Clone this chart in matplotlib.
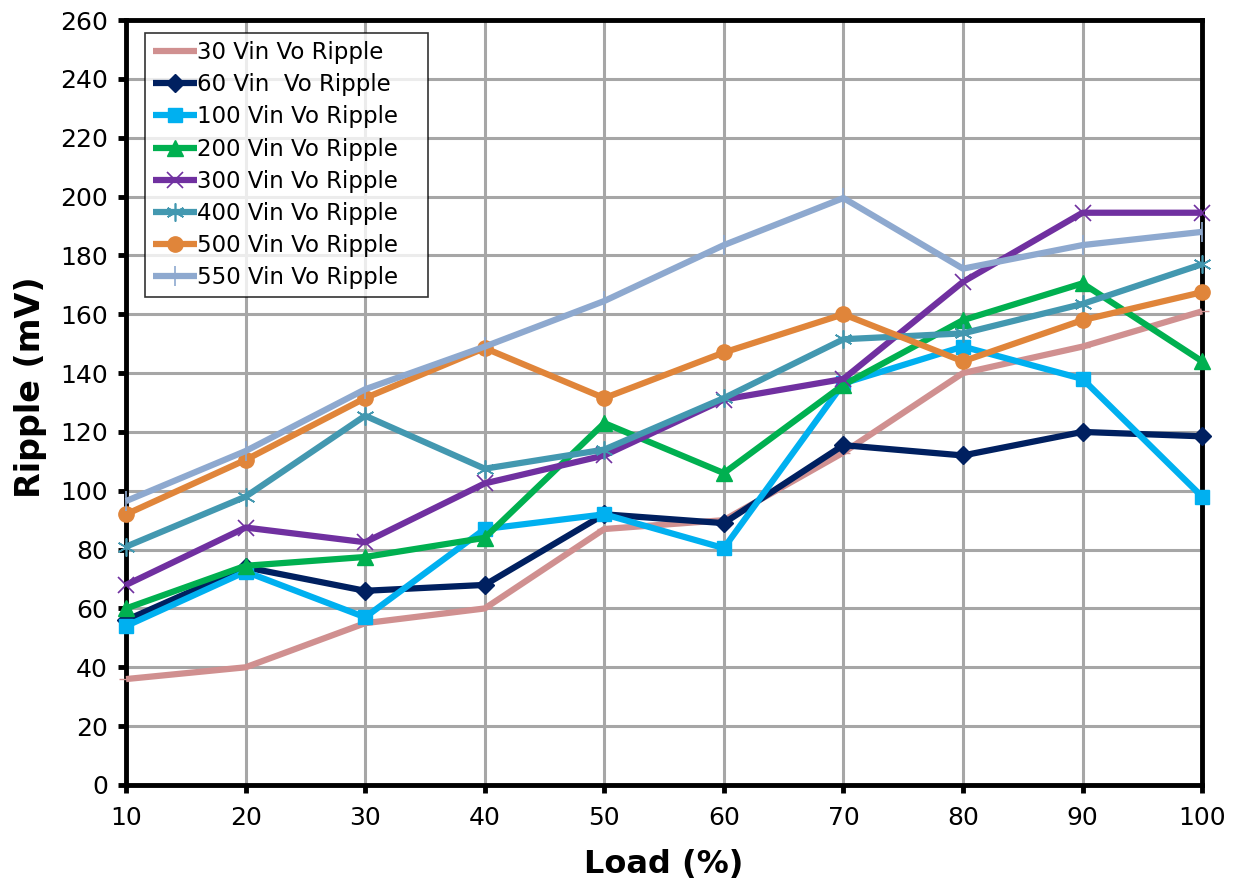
import matplotlib
matplotlib.use("Agg")
import matplotlib.pyplot as plt

load = [10, 20, 30, 40, 50, 60, 70, 80, 90, 100]

v30 = [36, 40, 55, 60, 87, 90, 113, 140, 149, 161]
v60 = [56, 74, 66, 68, 92, 89, 115.5, 112, 120, 118.5]
v100 = [54, 72.5, 57, 87, 92, 80.5, 136.5, 149, 138, 98]
v200 = [60, 74.5, 77.5, 84, 123, 106, 136, 158, 170.5, 144]
v300 = [68, 87.5, 82.5, 102.5, 112, 131, 138, 171, 194.5, 194.5]
v400 = [81, 98, 125.5, 107.5, 114, 131.5, 151.5, 153.5, 163.5, 177]
v500 = [92, 110.5, 131.5, 148.5, 131.5, 147, 160, 144, 158, 167.5]
v550 = [96.5, 113.5, 134.5, 149, 164.5, 183.5, 199.5, 175.5, 183.5, 188]

labels = ["30 Vin Vo Ripple", "60 Vin  Vo Ripple", "100 Vin Vo Ripple",
          "200 Vin Vo Ripple", "300 Vin Vo Ripple", "400 Vin Vo Ripple",
          "500 Vin Vo Ripple", "550 Vin Vo Ripple"]
yticks = list(range(0, 261, 20))

plt.rcParams['font.family'] = ['DejaVu Sans']

fig = plt.figure(figsize=(12.38, 8.9), dpi=100)
ax = fig.add_axes([0.1018, 0.118, 0.8692, 0.8595])

styles = [
    dict(color='#D09090', marker='_', ms=10, mew=1),
    dict(color='#002060', marker='D', ms=9),
    dict(color='#00B0F0', marker='s', ms=10),
    dict(color='#00B050', marker='^', ms=11),
    dict(color='#7030A0', marker='x', ms=12, mew=1.2),
    dict(color='#4398B0', marker=(6, 2, 0), ms=13, mew=1.2),
    dict(color='#E0853A', marker='o', ms=11),
    dict(color='#8EA9CF', marker='|', ms=14, mew=1.2),
]
series = [v30, v60, v100, v200, v300, v400, v500, v550]
for vals, st, lab in zip(series, styles, labels):
    ax.plot(load, vals, lw=4.5, label=lab, clip_on=False, zorder=3,
            solid_capstyle='butt', **st)

ax.set_xlim(10, 100)
ax.set_ylim(0, 260)
ax.set_xticks(load)
ax.set_yticks(yticks)
ax.grid(True, color='#A6A6A6', lw=2.2, zorder=0)
ax.set_axisbelow(True)
for s in ax.spines.values():
    s.set_linewidth(3.5)
    s.set_color('black')
ax.tick_params(axis='both', direction='out', length=6, width=3.5,
               labelsize=18, colors='black')
ax.tick_params(axis='y', pad=7)
ax.tick_params(axis='x', pad=9)
ax.set_xlabel('Load (%)', fontsize=23, fontweight='bold', labelpad=14)
ax.set_ylabel('Ripple (mV)', fontsize=24, fontweight='bold')
ax.yaxis.set_label_coords(-0.073, 0.52)

# legend box spans x 145..428 px, top at 33 px
x0 = (145 - 126) / 1076
w = (428 - 145) / 1076
ytop = (785 - 33) / 765
h = 0.34
leg = ax.legend(loc='upper left', bbox_to_anchor=(x0, ytop - h, w, h),
                mode='expand', fontsize=16.5, frameon=True, fancybox=False,
                handlelength=1.9, handletextpad=0.0, labelspacing=0.40,
                borderpad=0.35, borderaxespad=0)
leg.get_frame().set_edgecolor('black')
leg.get_frame().set_linewidth(1.2)
leg.set_zorder(5)

fig.savefig('out.png', dpi=100)
